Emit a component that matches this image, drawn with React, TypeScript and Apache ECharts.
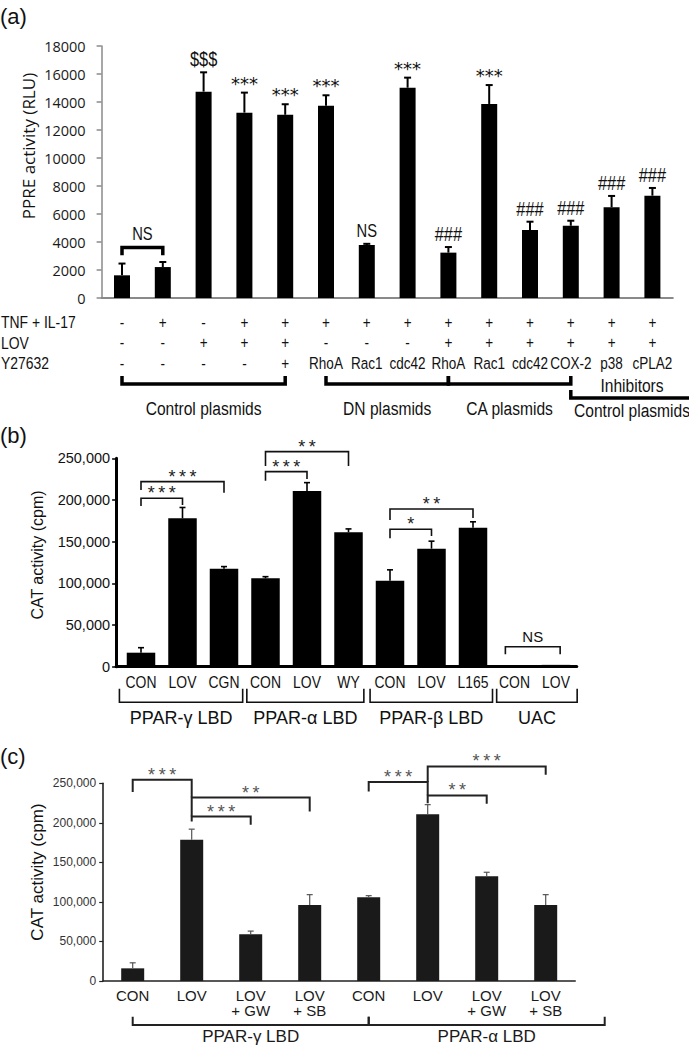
import { useEffect, useRef } from "react";
import * as echarts from "echarts";

const SANS = '"Liberation Sans", Arial, sans-serif';
const OPEN = '"Open Sans", sans-serif';
const DEJAVU = '"DejaVu Sans", sans-serif';
const NARROW_SCALE = 0.82;

// ---------------- Panel (a) ----------------
const A_TNF = ["-", "+", "-", "+", "+", "+", "+", "+", "+", "+", "+", "+", "+", "+"];
const A_LOV = ["-", "-", "+", "+", "+", "-", "-", "-", "+", "+", "+", "+", "+", "+"];
const A_Y27632 = ["-", "-", "-", "-", "+", "RhoA", "Rac1", "cdc42", "RhoA", "Rac1", "cdc42", "COX-2", "p38", "cPLA2"];
const A_VALUES = [1620, 2210, 14740, 13240, 13090, 13740, 3790, 15020, 3240, 13860, 4860, 5160, 6480, 7310];
const A_ERRORS = [840, 360, 1380, 1430, 750, 740, 80, 720, 400, 1350, 590, 360, 810, 550];
const A_MARKS = ["", "", "$$$", "***", "***", "***", "NS", "***", "###", "***", "###", "###", "###", "###"];
const A_Y_MAX = 18000;
const A_Y_STEP = 2000;
const A_ROW_NAMES = ["TNF + IL-17", "LOV", "Y27632"];
// [from bar, to bar, bracket level, left leg end, right leg end, label]
const A_BRACKETS: any[] = [[0, 1, 3600, 3050, 3050, "NS"]];
const A_GROUPS: any[] = [
  ["Control plasmids", 0, 4],
  ["DN plasmids", 5, 7],
  ["CA plasmids", 8, 10],
];
const A_INHIB_GROUPS: any[] = [["Control plasmids", 11, 13, "Inhibitors"]];

// ---------------- Panel (b) ----------------
const B_CATS = ["CON", "LOV", "CGN", "CON", "LOV", "WY", "CON", "LOV", "L165", "CON", "LOV"];
const B_VALUES = [16800, 178000, 117600, 106000, 210800, 161300, 103200, 141600, 166800, 1000, 2200];
const B_ERRORS = [6000, 13000, 2500, 2000, 10000, 4000, 13000, 9000, 7000, 0, 0];
const B_Y_MAX = 250000;
const B_Y_STEP = 50000;
const B_GROUPS: any[] = [
  ["PPAR-\u03b3 LBD", 0, 2],
  ["PPAR-\u03b1 LBD", 3, 5],
  ["PPAR-\u03b2 LBD", 6, 8],
  ["UAC", 9, 10],
];
const B_BRACKETS: any[] = [
  [0, 1, 202000, 192800, 194000, "***"],
  [0, 2, 222000, 212000, 208800, "***"],
  [3, 4, 234000, 223200, 225200, "***"],
  [3, 5, 258000, 240800, 240800, "**"],
  [6, 8, 189200, 176000, 178400, "**"],
  [6, 7, 164900, 154100, 156800, "*"],
  [8.78, 10.1, 24000, 14900, 14900, "NS"],
];

// ---------------- Panel (c) ----------------
const C_CATS = ["CON", "LOV", "LOV\n+ GW", "LOV\n+ SB", "CON", "LOV", "LOV\n+ GW", "LOV\n+ SB"];
const C_VALUES = [16000, 178500, 59100, 96200, 105900, 211000, 132500, 96200];
const C_ERRORS = [7000, 13500, 4000, 13000, 2000, 12000, 5000, 13000];
const C_Y_MAX = 250000;
const C_Y_STEP = 50000;
const C_GROUPS: any[] = [
  ["PPAR-\u03b3 LBD", 0, 3],
  ["PPAR-\u03b1 LBD", 4, 7],
];
const C_BRACKETS: any[] = [
  [0, 1, 254400, 238900, 232000, "***"],
  [1, 3, 232000, 208000, 214300, "**"],
  [1, 2, 208000, 201600, 197500, "***"],
  [4, 5, 251500, 239600, 234600, "***"],
  [5, 7, 271300, 251500, 260700, "***"],
  [5, 6, 234600, 224800, 224000, "**"],
];

// ---------------- styling helpers ----------------
const A_GROUP_PAD = [[0.38, 0.31], [0.5, 0.6], [0.32, 0.71], [0.12, 0.82]];
const B_GROUP_PAD = [[0.52, 0.45], [0.45, 0.37], [0.48, 0.47], [0.43, 0.51]];
const C_GROUP_PAD = [[0.385, 0.54], [0.26, 0.57]];

const spaced = (s: string) => s.split("").join("\u2009");

function markFont(m: string) {
  if (m.indexOf("*") >= 0) return { font: "18px " + DEJAVU, dy: 3.5, sx: 1 };
  if (m === "NS") return { font: "18px " + SANS, dy: 0, sx: NARROW_SCALE };
  return { font: "20px " + SANS, dy: 0, sx: NARROW_SCALE };
}

function errorSeries(axis: number, values: number[], errors: number[], st: any, marks?: string[]) {
  return {
    type: "custom",
    xAxisIndex: axis,
    yAxisIndex: axis,
    clip: false,
    silent: true,
    z: 5,
    data: values.map((v, i) => [i, v]),
    renderItem: (params: any, api: any) => {
      const i = params.dataIndex;
      const base = api.coord([i, values[i]]);
      const top = api.coord([i, values[i] + errors[i]]);
      const children: any[] = [];
      if (errors[i] > 0) {
        children.push({
          type: "line",
          shape: { x1: base[0], y1: base[1], x2: top[0], y2: top[1] },
          style: { stroke: st.color, lineWidth: st.width },
        });
        children.push({
          type: "line",
          shape: { x1: top[0] - st.cap, y1: top[1], x2: top[0] + st.cap, y2: top[1] },
          style: { stroke: st.color, lineWidth: st.width },
        });
      }
      if (marks && marks[i]) {
        const mf = markFont(marks[i]);
        children.push({
          type: "text",
          x: top[0],
          y: top[1] - st.markGap + mf.dy,
          scaleX: mf.sx,
          style: { text: marks[i], align: "center", verticalAlign: "middle", font: mf.font, fill: "#111" },
        });
      }
      return { type: "group", children };
    },
  };
}

function bracketSeries(axis: number, brackets: any[], st: any) {
  return {
    type: "custom",
    xAxisIndex: axis,
    yAxisIndex: axis,
    clip: false,
    silent: true,
    z: 6,
    data: brackets.map((b) => [b[0], b[2]]),
    renderItem: (params: any, api: any) => {
      const b = brackets[params.dataIndex];
      const p1 = api.coord([b[0], b[2]]);
      const p2 = api.coord([b[1], b[2]]);
      const q1 = api.coord([b[0], b[3]]);
      const q2 = api.coord([b[1], b[4]]);
      const isStar = String(b[5]).indexOf("*") >= 0;
      return {
        type: "group",
        children: [
          {
            type: "polyline",
            shape: { points: [[q1[0], q1[1]], [p1[0], p1[1]], [p2[0], p2[1]], [q2[0], q2[1]]] },
            style: { stroke: st.color, lineWidth: st.width, fill: "none" },
          },
          {
            type: "text",
            x: (p1[0] + p2[0]) / 2,
            y: p1[1] - (isStar ? st.starGap : st.textGap),
            scaleX: isStar ? 1 : st.textScale || 1,
            style: {
              text: isStar && st.spaceStars ? spaced(b[5]) : b[5],
              align: "center",
              verticalAlign: "middle",
              font: isStar ? st.starFont : st.textFont,
              fill: isStar ? st.starColor : st.textColor,
            },
          },
        ],
      };
    },
  };
}

function groupSeries(axis: number, groups: any[], pads: number[][], st: any) {
  return {
    type: "custom",
    xAxisIndex: axis,
    yAxisIndex: axis,
    clip: false,
    silent: true,
    z: 6,
    data: groups.map((g) => [g[1], 0]),
    renderItem: (params: any, api: any) => {
      const k = params.dataIndex;
      const g = groups[k];
      const pad = pads[k + (st.padOffset || 0)];
      const a = api.coord([g[1] - pad[0], 0]);
      const b = api.coord([g[2] + pad[1], 0]);
      const y0 = a[1];
      const cx = (a[0] + b[0]) / 2 + (st.labelDx || 0);
      const children: any[] = [
        {
          type: "polyline",
          shape: {
            points: [
              [a[0], y0 + st.legTop],
              [a[0], y0 + st.legBottom],
              [b[0], y0 + st.legBottom],
              [b[0], y0 + st.legTop],
            ],
          },
          style: { stroke: st.color, lineWidth: st.width, fill: "none" },
        },
        {
          type: "text",
          x: cx,
          y: y0 + st.labelDy,
          scaleX: st.scaleX || 1,
          style: { text: g[0], align: "center", verticalAlign: "middle", font: st.font, fill: st.textColor || st.color },
        },
      ];
      if (g[3]) {
        children.push({
          type: "text",
          x: cx,
          y: y0 + st.aboveDy,
          scaleX: st.scaleX || 1,
          style: { text: g[3], align: "center", verticalAlign: "middle", font: st.font, fill: st.textColor || st.color },
        });
      }
      return { type: "group", children };
    },
  };
}

function categoryLabelSeries(axis: number, rows: string[][], st: any) {
  return {
    type: "custom",
    xAxisIndex: axis,
    yAxisIndex: axis,
    clip: false,
    silent: true,
    data: rows[0].map((_, i) => [i, 0]),
    renderItem: (params: any, api: any) => {
      const i = params.dataIndex;
      const p = api.coord([i, 0]);
      return {
        type: "group",
        children: rows.map((row, k) => ({
          type: "text",
          x: p[0],
          y: p[1] + st.dy + k * (st.rowStep || 0),
          scaleX: st.scaleX || 1,
          style: { text: row[i], align: "center", verticalAlign: "middle", font: st.font, fill: st.color },
        })),
      };
    },
  };
}

function buildOption() {
  const fmtThousands = (v: number) => v.toLocaleString("en-US");
  return {
    animation: false,
    backgroundColor: "#ffffff",
    grid: [
      { left: 101.6, top: 46, width: 571.2, height: 252 },
      { left: 116.1, top: 458.3, width: 460.65, height: 208.4 },
      { left: 103.2, top: 783.3, width: 472, height: 197.7 },
    ],
    xAxis: [
      {
        gridIndex: 0,
        type: "category",
        data: A_Y27632,
        axisLine: { lineStyle: { color: "#8a8a8a", width: 2 } },
        axisTick: { show: false },
        axisLabel: { show: false },
      },
      {
        gridIndex: 1,
        type: "value",
        min: -0.6,
        max: 10.5,
        axisLine: { show: true, onZero: false, lineStyle: { color: "#000", width: 3 } },
        axisTick: { show: false },
        axisLabel: { show: false },
        splitLine: { show: false },
      },
      {
        gridIndex: 2,
        type: "category",
        data: C_CATS,
        axisLine: { lineStyle: { color: "#222", width: 1.6 } },
        axisTick: { show: false },
        axisLabel: {
          interval: 0,
          margin: 7,
          fontFamily: SANS,
          fontSize: 15,
          lineHeight: 15,
          color: "#1a1a1a",
        },
      },
    ],
    yAxis: [
      {
        gridIndex: 0,
        type: "value",
        min: 0,
        max: A_Y_MAX,
        interval: A_Y_STEP,
        axisLine: { show: true, lineStyle: { color: "#8a8a8a", width: 1.5 } },
        axisTick: { show: true, length: 5, lineStyle: { color: "#8a8a8a", width: 1.5 } },
        axisLabel: { margin: 16, fontFamily: OPEN, fontSize: 14.5, color: "#1a1a1a", formatter: (v: number) => String(v) },
        splitLine: { show: false },
      },
      {
        gridIndex: 1,
        type: "value",
        min: 0,
        max: B_Y_MAX,
        interval: B_Y_STEP,
        axisLine: { show: true, onZero: false, lineStyle: { color: "#000", width: 3 } },
        axisTick: { show: true, length: 4, lineStyle: { color: "#000", width: 1.5 } },
        axisLabel: { margin: 6, fontFamily: SANS, fontSize: 14.5, color: "#111", formatter: fmtThousands },
        splitLine: { show: false },
      },
      {
        gridIndex: 2,
        type: "value",
        min: 0,
        max: C_Y_MAX,
        interval: C_Y_STEP,
        axisLine: { show: true, lineStyle: { color: "#222", width: 1.6 } },
        axisTick: { show: true, length: 4, lineStyle: { color: "#222", width: 1.2 } },
        axisLabel: { margin: 7, fontFamily: SANS, fontSize: 12, color: "#333", formatter: fmtThousands },
        splitLine: { show: false },
      },
    ],
    graphic: [
      { type: "text", x: 0, y: 16, style: { text: "(a)", font: "22px " + SANS, fill: "#111", verticalAlign: "middle" } },
      { type: "text", x: 0, y: 435, style: { text: "(b)", font: "22px " + SANS, fill: "#111", verticalAlign: "middle" } },
      { type: "text", x: 0, y: 756, style: { text: "(c)", font: "22px " + SANS, fill: "#111", verticalAlign: "middle" } },
      {
        type: "text", x: 28, y: 146, rotation: Math.PI / 2,
        style: { text: "PPRE activity (RLU)", font: "17px " + OPEN, fill: "#111", align: "center", verticalAlign: "middle" },
      },
      {
        type: "text", x: 37, y: 555, rotation: Math.PI / 2,
        style: { text: "CAT activity (cpm)", font: "16px " + SANS, fill: "#111", align: "center", verticalAlign: "middle" },
      },
      {
        type: "text", x: 37, y: 872, rotation: Math.PI / 2,
        style: { text: "CAT activity (cpm)", font: "17px " + SANS, fill: "#111", align: "center", verticalAlign: "middle" },
      },
      ...A_ROW_NAMES.map((t, k) => ({
        type: "text", x: 1, y: 322 + k * 20.5, scaleX: NARROW_SCALE,
        style: { text: t, font: "17px " + SANS, fill: "#111", verticalAlign: "middle" },
      })),
    ],
    series: [
      // (a)
      { type: "bar", xAxisIndex: 0, yAxisIndex: 0, data: A_VALUES, barWidth: 16, itemStyle: { color: "#000" }, z: 2 },
      errorSeries(0, A_VALUES, A_ERRORS, { color: "#000", width: 2, cap: 3.5, markGap: 13 }, A_MARKS),
      bracketSeries(0, A_BRACKETS, {
        color: "#000", width: 3.5, textGap: 14, starGap: 10, textFont: "18px " + SANS, textScale: NARROW_SCALE,
        starFont: "17px " + DEJAVU, textColor: "#111", starColor: "#111",
      }),
      categoryLabelSeries(0, [A_TNF, A_LOV, A_Y27632], {
        dy: 23.5, rowStep: 20.5, font: "16.5px " + SANS, color: "#111", scaleX: NARROW_SCALE,
      }),
      groupSeries(0, A_GROUPS, A_GROUP_PAD, {
        legTop: 78, legBottom: 86, labelDy: 110.5, width: 3.5, color: "#000", textColor: "#111",
        font: "19px " + SANS, scaleX: NARROW_SCALE,
      }),
      groupSeries(0, A_INHIB_GROUPS, A_GROUP_PAD, {
        padOffset: 3, legTop: 92, legBottom: 100, labelDy: 112.5, aboveDy: 87.5, width: 3.5, color: "#000",
        textColor: "#111", font: "19px " + SANS, scaleX: NARROW_SCALE,
      }),
      // (b)
      {
        type: "bar", xAxisIndex: 1, yAxisIndex: 1, data: B_VALUES.map((v, i) => [i, v]), barWidth: 28.5,
        itemStyle: { color: "#000" }, z: 2,
      },
      errorSeries(1, B_VALUES, B_ERRORS, { color: "#000", width: 1.6, cap: 3 }),
      bracketSeries(1, B_BRACKETS, {
        color: "#111", width: 1.6, textGap: 10, starGap: 5, textFont: "15px " + SANS, starFont: "18px " + SANS,
        textColor: "#111", starColor: "#222", spaceStars: true,
      }),
      categoryLabelSeries(1, [B_CATS], { dy: 15, font: "17px " + SANS, color: "#111", scaleX: NARROW_SCALE }),
      groupSeries(1, B_GROUPS, B_GROUP_PAD, {
        legTop: 22, legBottom: 35.5, labelDy: 51.6, width: 1.6, color: "#111", font: "18px " + SANS,
      }),
      // (c)
      { type: "bar", xAxisIndex: 2, yAxisIndex: 2, data: C_VALUES, barWidth: 23, itemStyle: { color: "#1a1a1a" }, z: 2 },
      errorSeries(2, C_VALUES, C_ERRORS, { color: "#555", width: 1.2, cap: 3 }),
      bracketSeries(2, C_BRACKETS, {
        color: "#222", width: 2, textGap: 10, starGap: 5, textFont: "14px " + SANS, starFont: "18px " + SANS,
        textColor: "#555", starColor: "#555", spaceStars: true,
      }),
      groupSeries(2, C_GROUPS, C_GROUP_PAD, {
        legTop: 35.7, legBottom: 44, labelDy: 55, width: 2, color: "#222", textColor: "#1a1a1a", font: "17px " + SANS,
      }),
    ],
  };
}

export default function App() {
  const ref = useRef<HTMLDivElement>(null);
  useEffect(() => {
    if (!ref.current) return;
    const chart = echarts.init(ref.current, undefined, { renderer: "svg" });
    chart.setOption(buildOption() as any);
    return () => chart.dispose();
  }, []);
  return (
    <div
      ref={ref}
      style={{ position: "absolute", left: 0, top: 0, width: 689, height: 1047, background: "#fff" }}
    />
  );
}
